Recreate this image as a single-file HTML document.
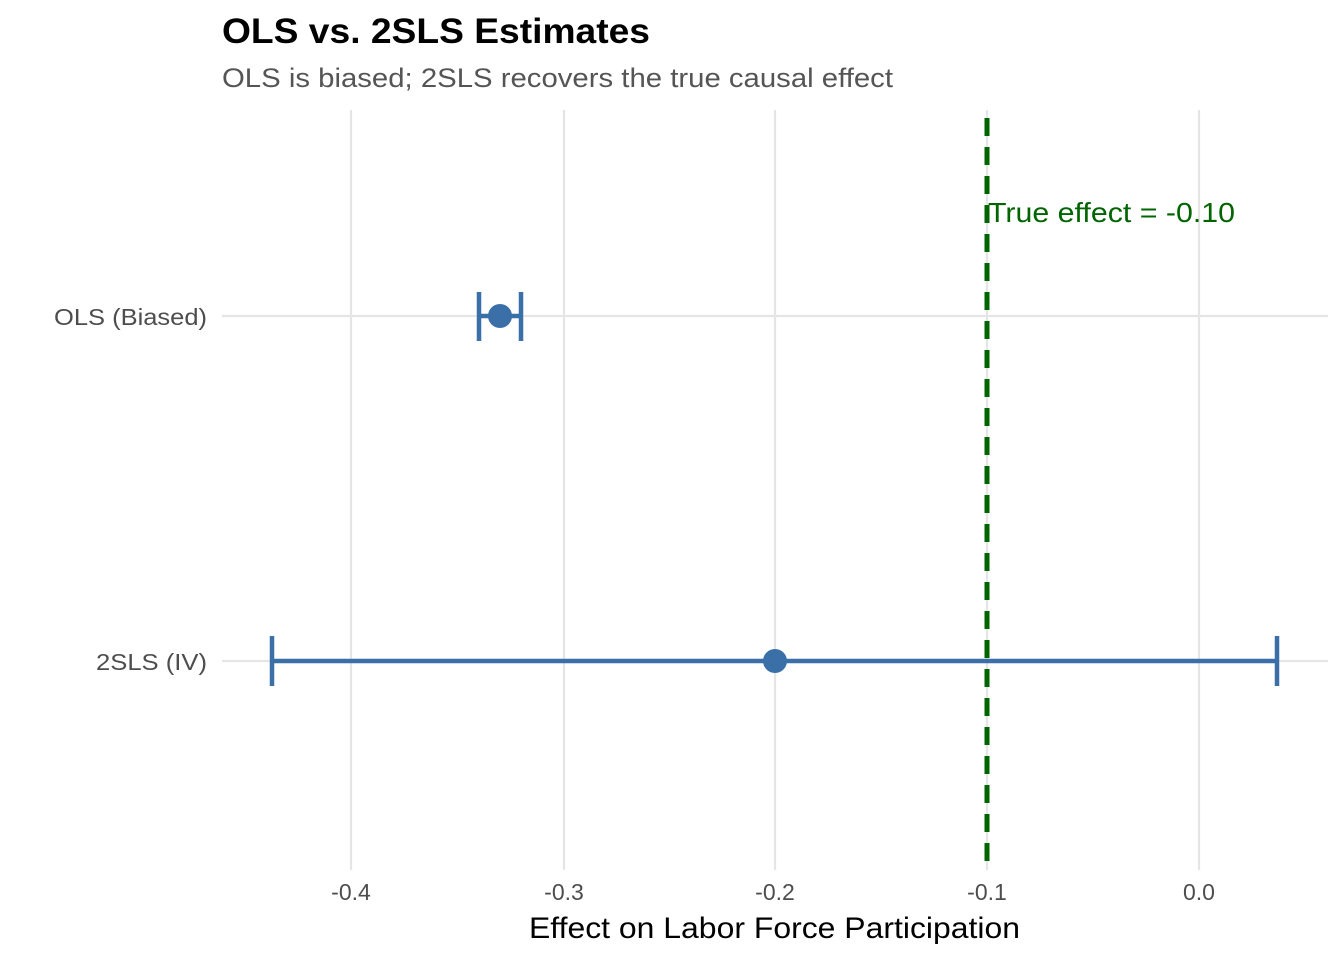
<!DOCTYPE html>
<html><head><style>body{margin:0;background:#fff}</style></head><body>
<svg width="1344" height="960" xmlns="http://www.w3.org/2000/svg" font-family="Liberation Sans, Arial, sans-serif">
<rect width="1344" height="960" fill="#fff"/>
<g stroke="#e5e5e5" stroke-width="2.2">
<line x1="351" y1="110" x2="351" y2="870"/><line x1="564" y1="110" x2="564" y2="870"/>
<line x1="775" y1="110" x2="775" y2="870"/><line x1="987" y1="110" x2="987" y2="870"/>
<line x1="1199" y1="110" x2="1199" y2="870"/>
<line x1="222" y1="316" x2="1328" y2="316"/><line x1="222" y1="661" x2="1328" y2="661"/>
</g>
<g stroke="#3a6fa8" stroke-width="4.5" fill="none">
<line x1="479" y1="316" x2="521" y2="316"/><line x1="479" y1="292" x2="479" y2="341"/><line x1="521" y1="292" x2="521" y2="341"/>
<line x1="272" y1="661" x2="1277" y2="661"/><line x1="272" y1="636" x2="272" y2="686"/><line x1="1277" y1="636" x2="1277" y2="686"/>
</g>
<circle cx="500" cy="316" r="12" fill="#3a6fa8"/>
<circle cx="775" cy="661" r="12" fill="#3a6fa8"/>
<line x1="987" y1="118" x2="987" y2="868" stroke="#006400" stroke-width="5" stroke-dasharray="18,11"/>
<text x="988" y="222" font-size="28" fill="#006400" textLength="247" lengthAdjust="spacingAndGlyphs">True effect = -0.10</text>
<text x="222" y="43" font-size="35" font-weight="bold" fill="#000" textLength="428" lengthAdjust="spacingAndGlyphs">OLS vs. 2SLS Estimates</text>
<text x="222" y="87" font-size="27" fill="#555" textLength="671" lengthAdjust="spacingAndGlyphs">OLS is biased; 2SLS recovers the true causal effect</text>
<g font-size="23" fill="#4d4d4d">
<text x="54" y="325" textLength="153" lengthAdjust="spacingAndGlyphs">OLS (Biased)</text>
<text x="96" y="670" textLength="111" lengthAdjust="spacingAndGlyphs">2SLS (IV)</text>
</g>
<g font-size="23" fill="#4d4d4d" text-anchor="middle">
<text x="351" y="900">-0.4</text><text x="564" y="900">-0.3</text><text x="775" y="900">-0.2</text>
<text x="987" y="900">-0.1</text><text x="1199" y="900">0.0</text>
</g>
<text x="529" y="938" font-size="30" fill="#000" textLength="491" lengthAdjust="spacingAndGlyphs">Effect on Labor Force Participation</text>
</svg>
</body></html>
